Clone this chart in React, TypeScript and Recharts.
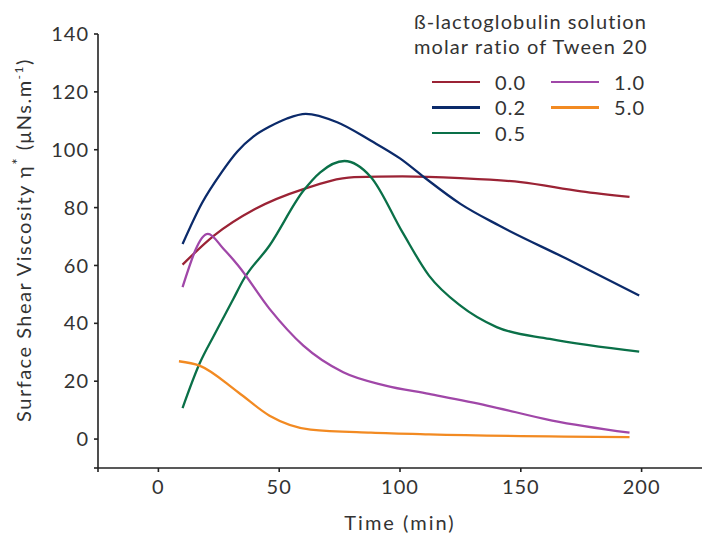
import { LineChart, Line, XAxis, YAxis } from 'recharts';

const t00 = [10, 23, 40, 60, 81, 101, 125, 150, 175, 195];
const v00 = [60.3, 70.3, 79.5, 86.4, 90.5, 90.8, 90.2, 88.8, 85.6, 83.7];

const t02 = [10, 18, 26, 32.6, 39.4, 46.3, 53.2, 61, 74, 88, 100, 110, 125, 141, 169, 199];
const v02 = [67.4, 81.5, 92, 99.3, 104.6, 108.1, 110.8, 112.4, 109.5, 103.1, 97, 90.5, 81.3, 73.8, 62.3, 49.6];

const t05 = [10, 17, 23, 31, 35, 46, 60, 67, 77, 88, 101, 112, 125, 140, 162, 199];
const v05 = [10.7, 26, 35.8, 48.4, 54.8, 66.9, 85.8, 92.2, 96.1, 90.5, 71.5, 56.5, 46.1, 38.7, 34.6, 30.2];

const t10 = [10, 20.5, 27, 33, 46, 60, 76.5, 94, 112, 136, 163, 195];
const v10 = [52.5, 70.9, 65.7, 60, 45, 32.3, 23.1, 18.5, 15.6, 11.6, 6.4, 2.2];

const t50 = [8.5, 17, 33, 46, 63, 88, 112, 195];
const v50 = [26.9, 25.4, 16.2, 8.1, 3.3, 2.2, 1.6, 0.7];

const xTicks = [-25, 0, 50, 100, 150, 200];
const yTicks = [-10, 0, 20, 40, 60, 80, 100, 120, 140];

const series = [
  { name: '0.0', t: t00, v: v00, color: '#9b2335' },
  { name: '0.2', t: t02, v: v02, color: '#0b2a6a' },
  { name: '0.5', t: t05, v: v05, color: '#0a7048' },
  { name: '1.0', t: t10, v: v10, color: '#a047a8' },
  { name: '5.0', t: t50, v: v50, color: '#f28a22' },
];

const toPoints = (t: number[], v: number[]) => t.map((x, i) => ({ x, y: v[i] }));

const FONT = 'Lato, "DejaVu Sans", sans-serif';
const INK = '#333';

function LegendBox() {
  const item = (s: typeof series[number]) => (
    <div key={s.name} style={{ display: 'flex', alignItems: 'center', height: 25.5 }}>
      <div style={{ width: 48, height: 2.5, background: s.color, marginRight: 15 }} />
      <span>{s.name}</span>
    </div>
  );
  return (
    <div
      style={{
        position: 'absolute',
        left: 414,
        top: 9,
        width: 288,
        fontFamily: FONT,
        color: INK,
        fontSize: 20,
        letterSpacing: 1.1,
      }}
    >
      <div style={{ lineHeight: '25px', whiteSpace: 'nowrap' }}>ß-lactoglobulin solution</div>
      <div style={{ lineHeight: '25px', whiteSpace: 'nowrap' }}>molar ratio of Tween 20</div>
      <div style={{ display: 'flex', marginTop: 10, marginLeft: 18 }}>
        <div style={{ width: 119 }}>{series.slice(0, 3).map(item)}</div>
        <div>{series.slice(3).map(item)}</div>
      </div>
    </div>
  );
}

export default function App() {
  return (
    <div style={{ position: 'absolute', left: 0, top: 0, width: 702, height: 539 }}>
      <LineChart width={702} height={539} margin={{ top: 34, right: 0, bottom: 31, left: 38 }}>
        <XAxis
          type="number"
          dataKey="x"
          domain={[-25, 225]}
          ticks={xTicks}
          tickFormatter={(v: number) => (v === -25 ? '' : String(v))}
          allowDataOverflow
          height={40}
          tickSize={4}
          stroke="#222"
          strokeWidth={1.6}
          tick={{ fill: INK, fontSize: 20, fontFamily: FONT, letterSpacing: 1, dy: 6 }}
          label={{
            content: () => (
              <text
                x={400}
                y={530}
                textAnchor="middle"
                fill={INK}
                fontSize={20}
                letterSpacing={2}
                fontFamily={FONT}
              >
                Time (min)
              </text>
            ),
          }}
        />
        <YAxis
          type="number"
          domain={[-10, 140]}
          ticks={yTicks}
          tickFormatter={(v: number) => (v === -10 ? '' : String(v))}
          allowDataOverflow
          width={60}
          tickSize={4}
          stroke="#222"
          strokeWidth={1.6}
          tick={{ fill: INK, fontSize: 20, fontFamily: FONT, letterSpacing: 1, dx: -3 }}
          label={{
            content: () => (
              <text
                x={31}
                y={240}
                transform="rotate(-90 31 240)"
                textAnchor="middle"
                fill={INK}
                fontSize={20}
                letterSpacing={1.5}
                fontFamily={FONT}
              >
                Surface Shear Viscosity η
                <tspan dy={-8} fontSize={15}>*</tspan>
                <tspan dy={8}>{'  '}(μNs.m</tspan>
                <tspan dy={-8} fontSize={12}>-1</tspan>
                <tspan dy={8}>)</tspan>
              </text>
            ),
          }}
        />
        {series.map((s) => (
          <Line
            key={s.name}
            data={toPoints(s.t, s.v)}
            dataKey="y"
            name={s.name}
            type="monotone"
            stroke={s.color}
            strokeWidth={2.3}
            dot={false}
            isAnimationActive={false}
          />
        ))}
      </LineChart>
      <LegendBox />
    </div>
  );
}
